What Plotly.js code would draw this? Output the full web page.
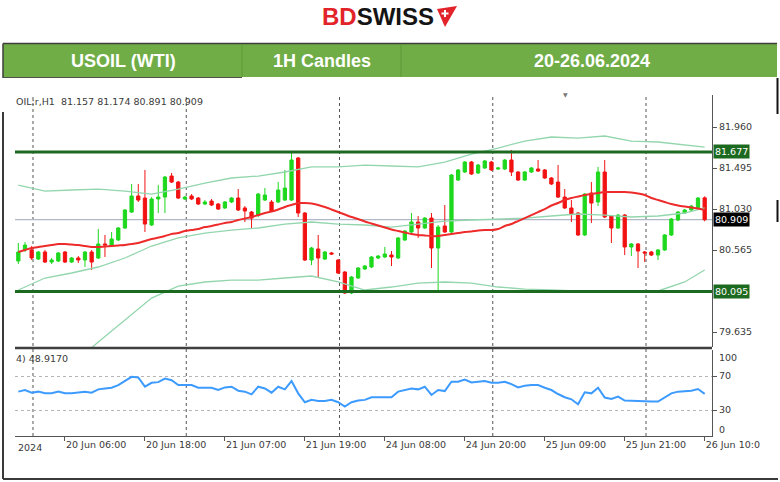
<!DOCTYPE html>
<html><head><meta charset="utf-8">
<script src="https://cdn.plot.ly/plotly-3.0.1.min.js"></script>
<style>html,body{margin:0;padding:0;background:#fff;}#chart{width:780px;height:482px;}</style>
</head><body><div id="chart"></div>
<script>
// ---------------- data ----------------
const tickBars = [7, 19, 31, 43, 55, 67, 79, 91, 103];
const tickLabels = ["20 Jun 06:00","20 Jun 18:00","21 Jun 07:00","21 Jun 19:00","24 Jun 08:00","24 Jun 20:00","25 Jun 09:00","25 Jun 21:00","26 Jun 10:0"];
const gridBars = [2.2, 25.2, 48.2, 71.2, 94.2];

const open = [
80.441,80.566,80.566,80.463,80.543,80.429,80.441,80.543,80.429,80.475,
80.452,80.543,80.475,80.634,80.611,80.679,80.815,80.996,81.178,81.155,
80.849,81.144,81.166,81.404,81.336,81.144,81.178,81.155,81.087,81.121,
81.087,81.042,81.110,81.155,81.042,80.996,80.962,81.132,81.110,81.110,
81.132,81.132,81.609,80.985,80.452,80.577,80.463,80.532,80.452,80.316,
80.078,80.248,80.350,80.373,80.475,80.486,80.509,80.475,80.679,80.770,
80.883,80.815,80.928,80.588,80.838,80.770,81.359,81.450,81.563,81.439,
81.495,81.563,81.484,81.484,81.586,81.450,81.359,81.450,81.484,81.473,
81.382,81.336,81.166,81.042,80.985,80.736,81.212,81.110,81.450,80.951,
80.815,80.962,80.600,80.634,80.543,80.543,80.509,80.566,80.736,80.906,
80.985,81.019,81.042,81.157];
const high = [
80.645,80.656,80.611,80.554,80.566,80.475,80.543,80.554,80.486,80.497,
80.554,80.566,80.804,80.736,80.770,80.826,81.030,81.314,81.314,81.473,
81.166,81.302,81.404,81.439,81.348,81.178,81.200,81.166,81.132,81.144,
81.098,81.121,81.166,81.257,81.064,81.008,81.212,81.268,81.132,81.336,
81.473,81.665,81.620,80.996,80.600,80.736,80.554,80.543,80.463,80.327,
80.271,80.373,80.395,80.497,80.509,80.600,80.554,80.713,80.792,80.985,
80.951,80.940,80.985,80.849,81.076,81.427,81.484,81.575,81.575,81.541,
81.586,81.575,81.507,81.598,81.699,81.461,81.461,81.507,81.586,81.484,
81.393,81.529,81.257,81.132,80.996,81.212,81.336,81.507,81.586,80.962,
80.974,80.974,80.645,80.645,80.554,80.554,80.577,80.747,80.928,81.008,
81.030,81.076,81.166,81.174];
const low = [
80.407,80.543,80.452,80.452,80.418,80.407,80.429,80.418,80.418,80.418,
80.373,80.339,80.463,80.486,80.600,80.668,80.804,80.985,81.110,80.770,
80.838,80.985,80.985,81.325,81.144,81.132,81.132,81.076,81.076,81.064,
81.019,81.030,81.098,81.008,80.883,80.815,80.940,81.121,80.996,81.098,
81.121,81.121,80.940,80.441,80.395,80.248,80.452,80.509,80.293,80.066,
80.066,80.237,80.339,80.361,80.463,80.475,80.384,80.463,80.668,80.758,
80.702,80.804,80.361,80.089,80.758,80.758,81.348,81.439,81.416,81.427,
81.484,81.461,81.473,81.473,81.404,81.348,81.348,81.439,81.450,81.370,
81.302,81.155,81.030,80.883,80.724,80.724,80.872,81.064,80.928,80.645,
80.804,80.509,80.497,80.361,80.430,80.497,80.452,80.554,80.724,80.894,
80.974,81.008,81.030,80.891];
const close = [
80.543,80.622,80.475,80.543,80.429,80.452,80.532,80.429,80.475,80.452,
80.543,80.429,80.634,80.622,80.690,80.815,81.019,81.178,81.132,80.860,
81.144,81.166,81.393,81.336,81.155,81.166,81.144,81.087,81.110,81.076,
81.030,81.110,81.155,81.019,81.008,80.928,81.200,81.189,81.008,81.246,
81.268,81.586,80.985,80.452,80.588,80.475,80.543,80.520,80.305,80.078,
80.259,80.361,80.384,80.486,80.497,80.520,80.486,80.702,80.781,80.883,
80.815,80.928,80.588,80.826,80.770,81.416,81.473,81.563,81.427,81.529,
81.575,81.473,81.495,81.586,81.450,81.359,81.450,81.495,81.461,81.382,
81.314,81.166,81.042,80.974,80.736,81.200,81.098,81.450,80.940,80.815,
80.962,80.600,80.634,80.554,80.532,80.509,80.566,80.736,80.917,80.996,
81.019,81.064,81.155,80.909];
const maRed = [
80.543,80.566,80.588,80.600,80.611,80.622,80.634,80.634,80.628,80.622,
80.611,80.600,80.600,80.605,80.611,80.617,80.622,80.634,80.645,80.668,
80.690,80.707,80.724,80.747,80.758,80.781,80.792,80.804,80.826,80.838,
80.855,80.872,80.883,80.906,80.923,80.940,80.962,80.985,81.002,81.025,
81.053,81.076,81.098,81.098,81.093,81.076,81.053,81.025,80.996,80.968,
80.940,80.917,80.889,80.866,80.843,80.821,80.798,80.781,80.764,80.747,
80.736,80.730,80.724,80.724,80.736,80.747,80.758,80.770,80.775,80.787,
80.792,80.792,80.804,80.838,80.860,80.894,80.928,80.962,80.996,81.030,
81.070,81.098,81.132,81.155,81.172,81.189,81.200,81.212,81.223,81.223,
81.223,81.223,81.217,81.206,81.189,81.155,81.132,81.110,81.087,81.070,
81.058,81.047,81.036,81.019];
const bandBars = [0,4,8,12,16,20,24,28,32,36,40,44,48,52,56,60,64,68,72,76,80,84,88,92,96,100,103];
const bbUpper = [81.302,81.234,81.246,81.257,81.234,81.200,81.257,81.325,81.382,81.404,81.450,81.507,81.507,81.529,81.518,81.507,81.563,81.654,81.722,81.801,81.847,81.835,81.858,81.801,81.790,81.756,81.733];
const bbMiddle = [80.112,80.248,80.305,80.373,80.475,80.611,80.702,80.758,80.792,80.815,80.860,80.883,80.860,80.849,80.826,80.860,80.894,80.906,80.917,80.928,80.951,80.974,80.962,80.940,80.951,80.985,81.042];
const bbLower = [78.751,79.001,79.262,79.522,79.772,80.021,80.157,80.203,80.225,80.225,80.248,80.271,80.203,80.112,80.146,80.191,80.203,80.191,80.146,80.123,80.112,80.101,80.089,80.089,80.101,80.203,80.339];
const rsi = [
51.6,53.5,50.4,51.6,49.6,49.6,51.6,49.6,49.6,50.4,
51.6,50.4,54.3,55.4,56.2,59.3,64.3,69.0,68.2,57.4,
62.0,62.8,66.9,65.1,59.3,59.3,59.3,56.2,56.2,56.2,
53.5,56.6,57.4,52.7,51.6,48.4,57.4,55.4,50.4,57.4,
54.3,64.0,49.6,39.1,41.9,40.7,40.7,41.9,39.1,34.1,
39.1,41.1,41.9,45.0,45.0,45.0,45.0,51.6,53.5,55.4,
54.3,57.4,47.7,53.5,52.3,63.2,63.2,65.9,62.4,63.2,
64.0,62.0,62.0,63.2,60.5,56.6,58.5,59.3,59.3,56.2,
53.5,48.8,45.0,42.6,36.8,50.8,49.6,56.2,44.6,43.0,
45.7,41.1,40.7,39.9,39.9,39.9,39.9,44.6,49.6,51.6,
52.3,52.7,54.7,48.917];
const resistance = 81.677, support = 80.095, lastPrice = 80.909;
const priceTicks = [81.960, 81.495, 81.030, 80.565, 79.635];
const rsiLevels = [70, 30];
const infoText = "OIL:r,H1  81.157 81.174 80.891 80.909";
const rsiText = "4) 48.9170";
const headerCells = ["USOIL (WTI)", "1H Candles", "20-26.06.2024"];

// ---------------- layout helpers ----------------
const W = 780, H = 482;
const px = x => x / W, py = y => 1 - y / H;
const bars = open.map((_, i) => i);
const pathPx = pts => pts.map((p, k) => (k ? "L" : "M") + px(p[0]).toFixed(5) + "," + py(p[1]).toFixed(5)).join(" ") + " Z";
const tf = {family: "DejaVu Sans, Verdana, sans-serif", size: 9.5, color: "#3a3a3a"};
const hdrFont = {family: "Liberation Sans Narrow, Arial Narrow, Liberation Sans, sans-serif", size: 18, color: "#ffffff"};

const traces = [
  {type: "scatter", mode: "lines", x: bandBars, y: bbUpper, line: {color: "#93d6ad", width: 1.3}, xaxis: "x", yaxis: "y", hoverinfo: "skip"},
  {type: "scatter", mode: "lines", x: bandBars, y: bbMiddle, line: {color: "#93d6ad", width: 1.3}, xaxis: "x", yaxis: "y", hoverinfo: "skip"},
  {type: "scatter", mode: "lines", x: bandBars, y: bbLower, line: {color: "#93d6ad", width: 1.3}, xaxis: "x", yaxis: "y", hoverinfo: "skip"},
  {type: "candlestick", x: bars, open: open, high: high, low: low, close: close, xaxis: "x", yaxis: "y",
   increasing: {line: {color: "#1ed81e", width: 1}, fillcolor: "#1ed81e"},
   decreasing: {line: {color: "#f21212", width: 1}, fillcolor: "#f21212"},
   whiskerwidth: 0, hoverinfo: "skip"},
  {type: "scatter", mode: "lines", x: bars, y: maRed, line: {color: "#ee2b2b", width: 2, shape: "spline", smoothing: 0.6}, xaxis: "x", yaxis: "y", hoverinfo: "skip"},
  {type: "scatter", mode: "lines", x: bars, y: rsi, line: {color: "#3d9bff", width: 2}, xaxis: "x", yaxis: "y2", hoverinfo: "skip"}
];

const shapes = [];
// banner
shapes.push({type: "rect", xref: "paper", yref: "paper", x0: px(3), x1: px(777), y0: py(77), y1: py(44), fillcolor: "#70ad47", line: {width: 0}, layer: "below"});
shapes.push({type: "line", xref: "paper", yref: "paper", x0: px(3), x1: px(777), y0: py(43.5), y1: py(43.5), line: {color: "#3d3d3d", width: 1.5}});
shapes.push({type: "line", xref: "paper", yref: "paper", x0: px(3), x1: px(3), y0: py(43.5), y1: py(78), line: {color: "#3d3d3d", width: 1.5}});
shapes.push({type: "line", xref: "paper", yref: "paper", x0: px(3), x1: px(242), y0: py(77.5), y1: py(77.5), line: {color: "#4f4f4f", width: 1}});
[242, 401].forEach(x => shapes.push({type: "line", xref: "paper", yref: "paper", x0: px(x), x1: px(x), y0: py(44), y1: py(77), line: {color: "#5c9a38", width: 1}}));
// logo flag
shapes.push({type: "path", xref: "paper", yref: "paper", path: pathPx([[437,9],[457,6],[445,27]]), fillcolor: "#e3232a", line: {width: 0}});
shapes.push({type: "path", xref: "paper", yref: "paper", path: pathPx([[444,10],[446,10],[446,12.5],[448.5,12.5],[448.5,14.5],[446,14.5],[446,17],[444,17],[444,14.5],[441.5,14.5],[441.5,12.5],[444,12.5]]), fillcolor: "#ffffff", line: {width: 0}});
// window frame
shapes.push({type: "line", xref: "paper", yref: "paper", x0: px(3), x1: px(3), y0: py(112), y1: py(479), line: {color: "#3a3a3a", width: 2}});
shapes.push({type: "line", xref: "paper", yref: "paper", x0: px(3), x1: px(778), y0: py(479), y1: py(479), line: {color: "#3a3a3a", width: 2}});
shapes.push({type: "line", xref: "paper", yref: "paper", x0: px(777.5), x1: px(777.5), y0: py(78), y1: py(114), line: {color: "#111", width: 2}});
shapes.push({type: "line", xref: "paper", yref: "paper", x0: px(777.5), x1: px(777.5), y0: py(200), y1: py(222), line: {color: "#111", width: 2}});
// vertical dotted grid
gridBars.forEach(g => shapes.push({type: "line", xref: "x", yref: "paper", x0: g, x1: g, y0: py(436), y1: py(97), line: {color: "#555", width: 1, dash: "dot"}, layer: "below"}));
// current price line
shapes.push({type: "line", xref: "x domain", yref: "y", x0: 0, x1: 1, y0: lastPrice, y1: lastPrice, line: {color: "#aeb8c8", width: 1.2}, layer: "below"});
// support / resistance
[resistance, support].forEach(v => shapes.push({type: "line", xref: "x domain", yref: "y", x0: 0, x1: 1, y0: v, y1: v, line: {color: "#1c6a1f", width: 3}}));
// panel separator
shapes.push({type: "line", xref: "paper", yref: "paper", x0: px(15), x1: px(712), y0: py(348), y1: py(348), line: {color: "#3f3f3f", width: 2.5}});

const annotations = [
  {xref: "paper", yref: "paper", x: px(378), y: py(17), text: '<b><span style="color:#e3232a">BD</span>SWISS</b>', showarrow: false, xanchor: "center", yanchor: "middle",
   font: {family: "Liberation Sans, Arial, sans-serif", size: 24, color: "#141414"}},
  {xref: "paper", yref: "paper", x: px(123), y: py(60.5), text: "<b>" + headerCells[0] + "</b>", showarrow: false, xanchor: "center", yanchor: "middle", font: hdrFont},
  {xref: "paper", yref: "paper", x: px(322), y: py(60.5), text: "<b>" + headerCells[1] + "</b>", showarrow: false, xanchor: "center", yanchor: "middle", font: hdrFont},
  {xref: "paper", yref: "paper", x: px(592), y: py(60.5), text: "<b>" + headerCells[2] + "</b>", showarrow: false, xanchor: "center", yanchor: "middle", font: hdrFont},
  {xref: "paper", yref: "paper", x: px(14), y: py(101), text: infoText, showarrow: false, xanchor: "left", yanchor: "middle", font: tf},
  {xref: "paper", yref: "paper", x: px(14), y: py(358), text: rsiText, showarrow: false, xanchor: "left", yanchor: "middle", font: tf},
  {xref: "paper", yref: "paper", x: px(16), y: py(447), text: "2024", showarrow: false, xanchor: "left", yanchor: "middle", font: tf},
  {xref: "paper", yref: "paper", x: px(565), y: py(95), text: "▼", showarrow: false, xanchor: "center", yanchor: "middle", font: {family: "DejaVu Sans", size: 6, color: "#7a7a7a"}},
  {xref: "paper", yref: "paper", x: px(717), y: py(357), text: "100", showarrow: false, xanchor: "left", yanchor: "middle", font: tf},
  {xref: "paper", yref: "paper", x: px(717), y: py(429), text: "0", showarrow: false, xanchor: "left", yanchor: "middle", font: tf},
  {xref: "paper", yref: "y", x: px(713), y: resistance, text: resistance.toFixed(3), showarrow: false, xanchor: "left", yanchor: "middle", bgcolor: "#1c6a1f", borderpad: 1, font: {family: tf.family, size: 9.5, color: "#fff"}},
  {xref: "paper", yref: "y", x: px(713), y: lastPrice, text: lastPrice.toFixed(3), showarrow: false, xanchor: "left", yanchor: "middle", bgcolor: "#000", borderpad: 1, font: {family: tf.family, size: 9.5, color: "#fff"}},
  {xref: "paper", yref: "y", x: px(713), y: support, text: support.toFixed(3), showarrow: false, xanchor: "left", yanchor: "middle", bgcolor: "#1c6a1f", borderpad: 1, font: {family: tf.family, size: 9.5, color: "#fff"}}
];

const layout = {
  width: W, height: H, margin: {l: 0, r: 0, t: 0, b: 0},
  paper_bgcolor: "#fff", plot_bgcolor: "#fff", showlegend: false,
  xaxis: {domain: [px(15), px(712)], range: [-0.5, 104.1], anchor: "y2", type: "linear",
    showgrid: false, zeroline: false, showline: true, linecolor: "#555", linewidth: 1,
    ticks: "outside", ticklen: 4, tickcolor: "#555", tickvals: tickBars, ticktext: tickLabels,
    ticklabelposition: "outside right", tickfont: tf, rangeslider: {visible: false}},
  yaxis: {domain: [py(347), py(95)], range: [79.466, 82.323], anchor: "x", side: "right",
    showgrid: false, zeroline: false, showline: true, linecolor: "#555", linewidth: 1,
    ticks: "outside", ticklen: 4, tickcolor: "#555", tickvals: priceTicks, tickformat: ".3f", tickfont: tf},
  yaxis2: {domain: [py(436), py(350)], range: [-0.6, 100.6], anchor: "x", side: "right",
    showgrid: true, gridcolor: "#b5b5b5", griddash: "dot", gridwidth: 1, zeroline: false,
    showline: true, linecolor: "#555", linewidth: 1, ticks: "outside", ticklen: 4, tickcolor: "#555",
    tickvals: rsiLevels, tickfont: tf},
  shapes: shapes, annotations: annotations
};

Plotly.newPlot("chart", traces, layout, {staticPlot: true, displayModeBar: false});
</script></body></html>
